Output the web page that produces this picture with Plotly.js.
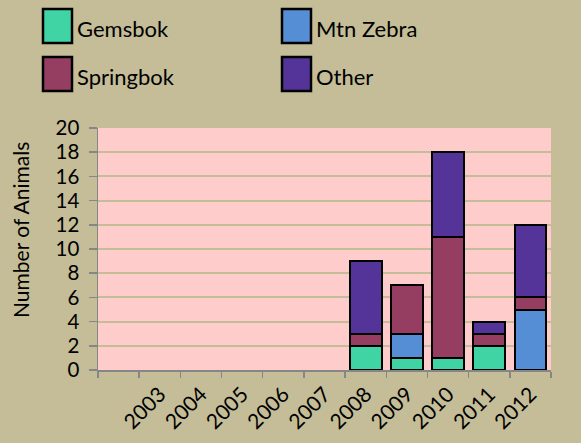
<!DOCTYPE html>
<html><head><meta charset="utf-8">
<script src="https://cdn.plot.ly/plotly-3.0.1.min.js"></script>
<style>body{margin:0;padding:0;background:#C4BD97;}#chart{width:581px;height:443px;}</style>
</head><body><div id="chart"></div>
<script>
// Data
var years = [2003, 2004, 2005, 2006, 2007, 2008, 2009, 2010, 2011, 2012];
var yearLabels = ["2003","2004","2005","2006","2007","2008","2009","2010","2011","2012"];
var gemsbok   = [0, 0, 0, 0, 0, 2, 1, 1, 2, 0];
var mtnZebra  = [0, 0, 0, 0, 0, 0, 2, 0, 0, 5];
var springbok = [0, 0, 0, 0, 0, 1, 4, 10, 1, 1];
var other     = [0, 0, 0, 0, 0, 6, 0, 7, 1, 6];
var seriesNames = ["Gemsbok", "Mtn Zebra", "Springbok", "Other"];
var seriesColors = ["#40D4A4", "#558ED5", "#953E62", "#55349A"];
var seriesValues = [gemsbok, mtnZebra, springbok, other];
var yTitle = "Number of Animals";

var W = 581, H = 443;
var M = {l: 98, r: 30, t: 128, b: 73};
var FONT = "Lato, 'Open Sans', sans-serif";

var traces = seriesValues.map(function(vals, i){
  return {
    type: 'bar', x: years, y: vals, name: seriesNames[i],
    width: 0.77,
    marker: {color: seriesColors[i],
             line: {color: '#000000', width: vals.map(function(v){ return v > 0 ? 2 : 0; })}},
    showlegend: false, hoverinfo: 'skip'
  };
});

// category boundaries for tick marks (one empty category before 2003)
var bounds = [];
for (var b = years[0] - 1.5; b <= years[years.length-1] + 0.5; b += 1) bounds.push(b);

function px(x){ return (x - M.l) / (W - M.l - M.r); }
function py(y){ return (H - M.b - y) / (H - M.t - M.b); }

var shapes = [], annotations = [];
var legPos = [[43, 9], [282, 9], [43, 57], [282, 57]];
[0, 1, 2, 3].forEach(function(si, k){
  var p = legPos[k];
  shapes.push({type: 'rect', xref: 'paper', yref: 'paper',
    x0: px(p[0]), x1: px(p[0] + 29), y0: py(p[1]), y1: py(p[1] + 34),
    fillcolor: seriesColors[si], line: {color: '#000000', width: 2.5}});
  annotations.push({xref: 'paper', yref: 'paper', x: px(p[0] + 32), y: py(p[1] + 20),
    xanchor: 'left', yanchor: 'middle', showarrow: false, text: seriesNames[si],
    font: {family: FONT, size: 22, color: '#000000'}});
});
annotations.push({xref: 'paper', yref: 'paper', x: px(20), y: py(230),
  xanchor: 'center', yanchor: 'middle', textangle: -90, showarrow: false, text: yTitle,
  font: {family: FONT, size: 21, color: '#000000'}});

var layout = {
  width: W, height: H,
  margin: M,
  paper_bgcolor: '#C4BD97',
  plot_bgcolor: '#FFCCCC',
  barmode: 'stack',
  showlegend: false,
  font: {family: FONT, size: 20, color: '#000000'},
  xaxis: {
    range: [years[0] - 1.5, years[years.length-1] + 0.5],
    tickvals: bounds, showticklabels: false,
    ticks: 'outside', ticklen: 6, tickwidth: 1.5, tickcolor: '#868686',
    showline: true, linecolor: '#868686', linewidth: 1.5,
    showgrid: false, zeroline: false, fixedrange: true
  },
  xaxis2: {
    overlaying: 'x', anchor: 'y', side: 'bottom',
    range: [years[0] - 1.5, years[years.length-1] + 0.5],
    tickvals: years, ticktext: yearLabels, tickangle: -45,
    ticks: '', showline: false, showgrid: false, zeroline: false,
    ticklabelstandoff: 7,
    tickfont: {family: FONT, size: 21, color: '#000000'}
  },
  yaxis: {
    range: [0, 20], dtick: 2, tick0: 0,
    ticks: 'outside', ticklen: 8, tickwidth: 1.5, tickcolor: '#868686',
    showline: true, linecolor: '#868686', linewidth: 1.5,
    showgrid: true, gridcolor: '#C4BD97', gridwidth: 2,
    zeroline: false, ticklabelstandoff: 5,
    tickfont: {family: FONT, size: 20.5, color: '#000000'}
  },
  shapes: shapes,
  annotations: annotations
};

// invisible helper so the label axis is drawn
traces.push({type: 'scatter', x: years, y: gemsbok, xaxis: 'x2', yaxis: 'y',
  mode: 'markers', marker: {opacity: 0}, showlegend: false, hoverinfo: 'skip'});

Plotly.newPlot('chart', traces, layout, {staticPlot: true});
</script>
</body></html>
